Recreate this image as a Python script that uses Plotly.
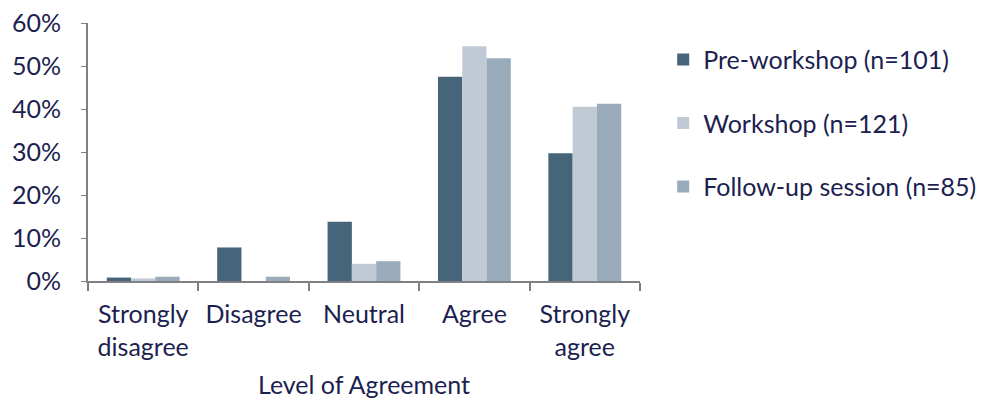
import plotly.graph_objects as go

categories = ["Strongly<br>disagree", "Disagree", "Neutral", "Agree", "Strongly<br>agree"]
pre_workshop = [0.8, 7.8, 13.8, 47.5, 29.7]
workshop = [0.6, 0.0, 4.0, 54.6, 40.5]
follow_up = [1.0, 1.0, 4.6, 51.8, 41.2]
series_names = ["Pre-workshop (n=101)", "Workshop (n=121)", "Follow-up session (n=85)"]
colors = ["#46647A", "#C0CAD4", "#9AACBB"]
y_ticks = [0, 10, 20, 30, 40, 50, 60]

text_color = "#1C1F4F"
axis_color = "#7F7F84"
font_family = "Lato, 'Open Sans', sans-serif"
fs = 25

fig = go.Figure()
for i, (name, vals) in enumerate(zip(series_names, [pre_workshop, workshop, follow_up])):
    fig.add_trace(go.Bar(
        x=categories, y=vals, name=name, marker_color=colors[i],
        marker_line_width=0, legendgroup=f"g{i}",
    ))

fig.update_layout(
    width=990, height=403,
    margin=dict(l=88, r=350, t=23, b=122, autoexpand=False),
    paper_bgcolor="white", plot_bgcolor="white",
    barmode="group", bargap=0.34, bargroupgap=0,
    font=dict(family=font_family, color=text_color, size=fs),
    legend=dict(
        x=1.042, y=0.947, xanchor="left", yanchor="top",
        font=dict(size=fs, color=text_color),
        tracegroupgap=28, itemwidth=30,
    ),
    showlegend=True,
)
fig.update_xaxes(
    showline=True, linecolor=axis_color, linewidth=2,
    ticks="outside", tickson="boundaries", ticklen=8, tickcolor=axis_color, tickwidth=2,
    tickfont=dict(size=fs, color=text_color), ticklabelstandoff=10,
    title=dict(text="Level of Agreement", font=dict(size=fs, color=text_color), standoff=17),
    showgrid=False,
)
fig.update_yaxes(
    range=[0, 60], tickvals=y_ticks, ticktext=[f"{v}%" for v in y_ticks],
    showline=True, linecolor=axis_color, linewidth=2,
    ticks="outside", ticklen=5, tickcolor=axis_color, tickwidth=1,
    tickfont=dict(size=fs, color=text_color), ticklabelstandoff=15,
    showgrid=False, zeroline=False,
)

fig.write_html("out.html")
